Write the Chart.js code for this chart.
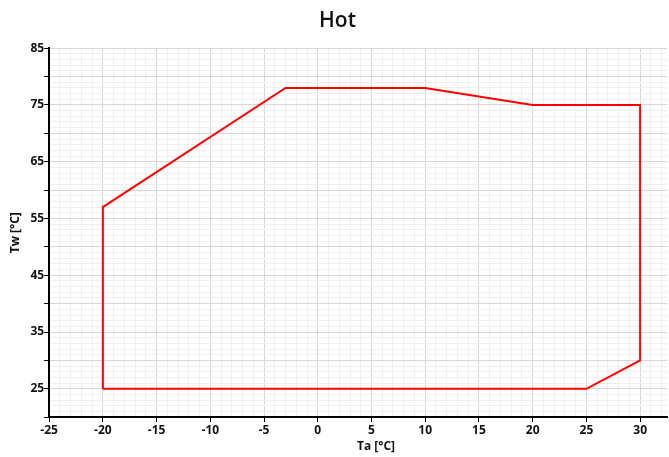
<!DOCTYPE html>
<html>
<head>
<meta charset="utf-8">
<script src="https://cdn.jsdelivr.net/npm/chart.js@4/dist/chart.umd.min.js"></script>
<style>
  html, body { margin: 0; padding: 0; background: #fff; }
  #wrap { width: 669px; height: 457px; }
</style>
</head>
<body>
<div id="wrap"><canvas id="chart-hot"></canvas></div>
<script>
// Operating envelope, outline points in order (closed)
const taValues = [-20, -20, -3, 10, 20, 30, 30, 25, -20];
const twValues = [25, 57, 78, 78, 75, 75, 30, 25, 25];

const xTickLabels = [-25, -20, -15, -10, -5, 0, 5, 10, 15, 20, 25, 30];
const yTickLabels = [25, 35, 45, 55, 65, 75, 85];

const xMin = -25, xMax = 32.5;
const yMin = 20, yMax = 85;

const points = taValues.map((ta, i) => ({ x: ta, y: twValues[i] }));

const tickFont = { family: 'Open Sans', size: 12, weight: 'bold' };

// one tick per unit so the fine grid shows, labels only on the listed values
function unitTicks(scale, lo, hi) {
    const ticks = [];
    for (let v = Math.ceil(lo); v <= hi; v++) ticks.push({ value: v });
    scale.ticks = ticks;
}
const isMajor = v => Math.abs(v % 5) === 0;

new Chart(document.getElementById('chart-hot'), {
    type: 'scatter',
    data: {
        datasets: [{
            label: 'Hot',
            data: points,
            showLine: true,
            borderColor: '#ff0000',
            borderWidth: 2,
            pointRadius: 0,
            fill: false,
            tension: 0
        }]
    },
    options: {
        responsive: true,
        maintainAspectRatio: false,
        animation: false,
        layout: { padding: { top: 0, right: 2, bottom: 3, left: 8 } },
        plugins: {
            legend: { display: false },
            tooltip: { enabled: false },
            title: {
                display: true,
                text: 'Hot',
                color: '#111',
                font: { family: 'Open Sans', size: 21, weight: '600' },
                padding: { top: 8, bottom: 15 }
            }
        },
        scales: {
            x: {
                type: 'linear',
                min: xMin,
                max: xMax,
                afterBuildTicks: s => unitTicks(s, xMin, xMax),
                border: { display: true, color: '#000', width: 2 },
                grid: {
                    color: c => isMajor(c.tick.value) ? '#d6d6d6' : '#efefef',
                    tickColor: c => isMajor(c.tick.value) ? '#000' : 'rgba(0,0,0,0)',
                    tickLength: 5
                },
                ticks: {
                    autoSkip: false,
                    maxRotation: 0,
                    padding: 1,
                    color: '#111',
                    font: tickFont,
                    callback: v => xTickLabels.includes(v) ? String(v) : ''
                },
                title: {
                    display: true,
                    // leading spaces nudge the label right of the axis centre, as in the original
                    text: '\u2002\u2002\u2002\u2002\u2002\u2002Ta [°C]',
                    color: '#111',
                    font: { family: 'Open Sans', size: 12, weight: 'bold' },
                    padding: { top: 1, bottom: 0 }
                }
            },
            y: {
                type: 'linear',
                min: yMin,
                max: yMax,
                afterBuildTicks: s => unitTicks(s, yMin, yMax),
                border: { display: true, color: '#000', width: 2 },
                grid: {
                    color: c => isMajor(c.tick.value) ? '#d6d6d6' : '#efefef',
                    tickColor: c => isMajor(c.tick.value) ? '#000' : 'rgba(0,0,0,0)',
                    tickLength: 5
                },
                ticks: {
                    autoSkip: false,
                    padding: 0,
                    color: '#111',
                    font: tickFont,
                    callback: v => yTickLabels.includes(v) ? String(v) : ''
                },
                title: {
                    display: true,
                    text: 'Tw [°C]',
                    color: '#111',
                    font: { family: 'Open Sans', size: 12, weight: 'bold' },
                    padding: { top: 0, bottom: 8 }
                }
            }
        }
    }
});
</script>
</body>
</html>
